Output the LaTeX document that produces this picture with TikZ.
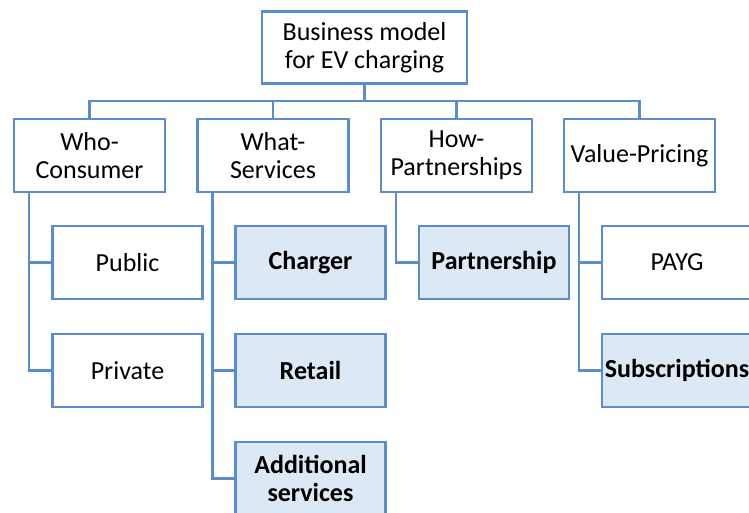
\documentclass[tikz,border=0pt]{standalone}
\usepackage{fontspec}
\setmainfont{Carlito}
\definecolor{bline}{HTML}{5B8DC8}
\definecolor{bfill}{HTML}{DDE8F5}
\begin{document}
\begin{tikzpicture}[x=1pt,y=-1pt,
  box/.style={draw=bline,line width=2.4pt,fill=white,inner sep=0pt,
    font=\fontsize{26}{28.5}\selectfont,text=black},
  topbox/.style={box,minimum width=151pt,minimum height=73pt,align=center},
  leaf/.style={box,minimum width=150pt,minimum height=73pt},
  hl/.style={leaf,fill=bfill,font=\fontsize{26}{28.5}\selectfont\bfseries},
  conn/.style={draw=bline,line width=2.4pt}]
\useasboundingbox (0,0) rectangle (749,513);
\clip (0,0) rectangle (749,513);
% root
\node[box,minimum width=205pt,minimum height=72pt,align=center] (root) at (364.5,47.5) {Business model\\for EV charging};
% level 1
\node[topbox] (who) at (89.5,155.5) {Who-\\Consumer};
\node[topbox] (what) at (273,155.5) {What-\\Services};
\node[topbox] (how) at (456.5,155.5) {How-\\Partnerships};
\node[topbox] (value) at (639.5,155.5) {Value-Pricing};
% leaves
\node[leaf] (public) at (127.5,262.5) {Public};
\node[leaf] (private) at (127.5,370.5) {Private};
\node[hl] (charger) at (310.5,262.5) {Charger};
\node[hl] (retail) at (310.5,370.5) {Retail};
\node[hl,align=center] (add) at (310.5,478.5) {Additional\\services};
\node[hl] (partner) at (494,262.5) {Partnership};
\node[leaf] (payg) at (677,262.5) {PAYG};
\node[hl] (subs) at (677,370.5) {Subscriptions};
% connectors root -> level 1
\foreach \n in {who,what,how,value}
  \draw[conn] (root.south) -- ++(0,16.5) -| (\n.north);
% level 1 -> leaves
\draw[conn] ([xshift=16pt]who.south west) |- (public.west);
\draw[conn] ([xshift=16pt]who.south west) |- (private.west);
\draw[conn] ([xshift=16pt]what.south west) |- (charger.west);
\draw[conn] ([xshift=16pt]what.south west) |- (retail.west);
\draw[conn] ([xshift=16pt]what.south west) |- (add.west);
\draw[conn] ([xshift=16pt]how.south west) |- (partner.west);
\draw[conn] ([xshift=16pt]value.south west) |- (payg.west);
\draw[conn] ([xshift=16pt]value.south west) |- (subs.west);
\end{tikzpicture}
\end{document}
